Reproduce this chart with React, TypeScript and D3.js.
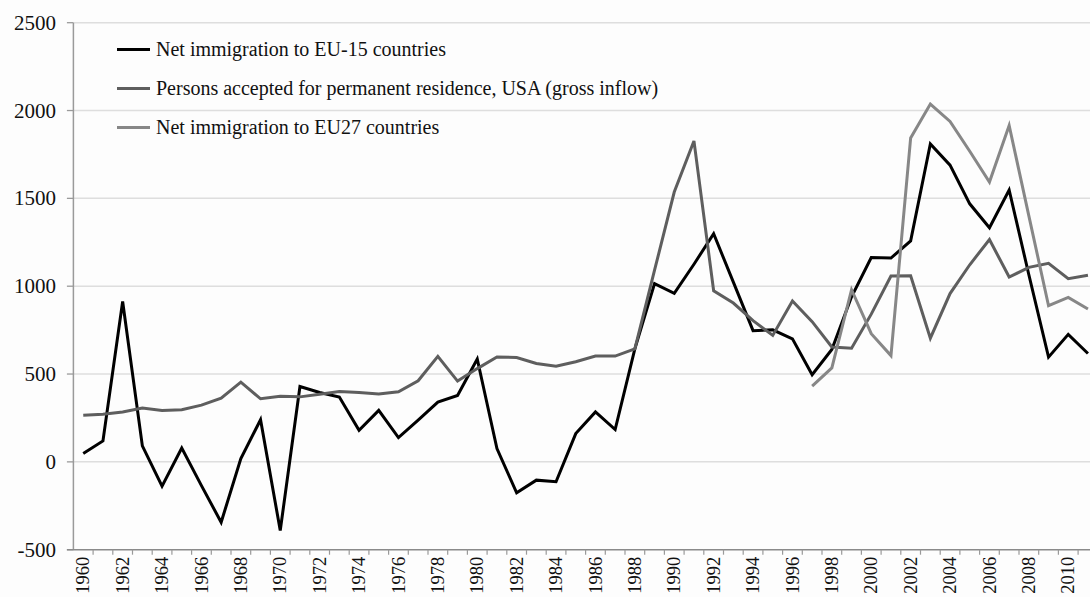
import React from "react";
import * as d3 from "d3";

const years: number[] = [
  1960, 1961, 1962, 1963, 1964, 1965, 1966, 1967, 1968, 1969,
  1970, 1971, 1972, 1973, 1974, 1975, 1976, 1977, 1978, 1979,
  1980, 1981, 1982, 1983, 1984, 1985, 1986, 1987, 1988, 1989,
  1990, 1991, 1992, 1993, 1994, 1995, 1996, 1997, 1998, 1999,
  2000, 2001, 2002, 2003, 2004, 2005, 2006, 2007, 2008, 2009,
  2010, 2011,
];

const eu15: (number | null)[] = [
  48, 119, 913, 91, -138, 79, -135, -344, 19, 240,
  -391, 429, 395, 369, 180, 293, 138, 237, 340, 378,
  586, 76, -176, -104, -113, 161, 284, 184, 643, 1015,
  959, 1125, 1299, 1023, 747, 752, 700, 496, 640, 940,
  1163, 1160, 1258, 1810, 1689, 1469, 1333, 1548, 1065, 596,
  726, 617,
];

const usa: (number | null)[] = [
  265, 271, 284, 306, 292, 297, 323, 362, 454, 359,
  373, 370, 385, 400, 395, 386, 399, 462, 601, 460,
  531, 597, 594, 560, 544, 570, 602, 602, 643, 1091,
  1536, 1827, 974, 904, 804, 720, 916, 798, 654, 647,
  841, 1058, 1059, 704, 958, 1122, 1266, 1052, 1107, 1130,
  1043, 1062,
];

const eu27: (number | null)[] = [
  null, null, null, null, null, null, null, null, null, null,
  null, null, null, null, null, null, null, null, null, null,
  null, null, null, null, null, null, null, null, null, null,
  null, null, null, null, null, null, null, 431, 535, 980,
  730, 605, 1844, 2037, 1938, 1768, 1593, 1915, 1400, 889,
  936, 870,
];

const yTicks: number[] = [-500, 0, 500, 1000, 1500, 2000, 2500];

const seriesNames: string[] = [
  "Net immigration to EU-15 countries",
  "Persons accepted for permanent residence, USA (gross inflow)",
  "Net immigration  to EU27 countries",
];
const seriesColors: string[] = ["#000000", "#5e5e5e", "#878787"];
const seriesData = [eu15, usa, eu27];

const W = 1090;
const H = 597;
const left = 73.4;
const step = 19.7;

export default function App() {
  const x = d3
    .scaleBand<number>()
    .domain(years)
    .range([left, left + step * years.length])
    .paddingInner(0)
    .paddingOuter(0);
  const y = d3.scaleLinear().domain([-500, 2500]).range([549.7, 22.7]);
  const cx = (yr: number) => (x(yr) as number) + x.bandwidth() / 2;

  const line = d3
    .line<[number, number | null]>()
    .defined((d) => d[1] !== null)
    .x((d) => cx(d[0]))
    .y((d) => y(d[1] as number));

  const font = "'Liberation Serif', 'Times New Roman', serif";
  const bottom = y(-500);

  return (
    <svg
      width={W}
      height={H}
      style={{ position: "absolute", left: 0, top: 0, background: "#fdfdfd" }}
      fontFamily={font}
    >
      {/* gridlines */}
      {yTicks
        .filter((t) => t !== -500)
        .map((t) => (
          <line
            key={"g" + t}
            x1={left}
            x2={W}
            y1={y(t)}
            y2={y(t)}
            stroke="#dedede"
            strokeWidth={1.5}
          />
        ))}
      {/* y axis */}
      <line x1={left} x2={left} y1={y(2500)} y2={bottom} stroke="#9a9a9a" strokeWidth={1.5} />
      {yTicks.map((t) => (
        <g key={"yt" + t}>
          <line x1={left - 6.5} x2={left} y1={y(t)} y2={y(t)} stroke="#9a9a9a" strokeWidth={1.3} />
          <text x={56} y={y(t) + 7} textAnchor="end" fontSize={21} fill="#111">
            {t}
          </text>
        </g>
      ))}
      {/* x axis */}
      <line x1={left - 6.5} x2={W} y1={bottom} y2={bottom} stroke="#8a8a8a" strokeWidth={1.5} />
      {years.map((yr) => (
        <line
          key={"xt" + yr}
          x1={(x(yr) as number) + x.bandwidth()}
          x2={(x(yr) as number) + x.bandwidth()}
          y1={bottom}
          y2={bottom + 5}
          stroke="#9a9a9a"
          strokeWidth={1.2}
        />
      ))}
      {years
        .filter((yr) => yr % 2 === 0)
        .map((yr) => (
          <text
            key={"xl" + yr}
            transform={`translate(${cx(yr) + 6.2},${bottom + 7}) rotate(-90)`}
            textAnchor="end"
            fontSize={18.5}
            fill="#111"
          >
            {yr}
          </text>
        ))}
      {/* series */}
      {seriesData.map((vals, i) => (
        <path
          key={"s" + i}
          d={line(years.map((yr, j) => [yr, vals[j]] as [number, number | null])) || ""}
          fill="none"
          stroke={seriesColors[i]}
          strokeWidth={3}
          strokeLinejoin="miter"
        />
      ))}
      {/* legend */}
      {seriesNames.map((n, i) => {
        const ly = 49.5 + i * 39;
        return (
          <g key={"lg" + i}>
            <line x1={117} x2={150} y1={ly} y2={ly} stroke={seriesColors[i]} strokeWidth={3} />
            <text x={156} y={ly + 6.5} fontSize={20} fill="#111">
              {n}
            </text>
          </g>
        );
      })}
    </svg>
  );
}
